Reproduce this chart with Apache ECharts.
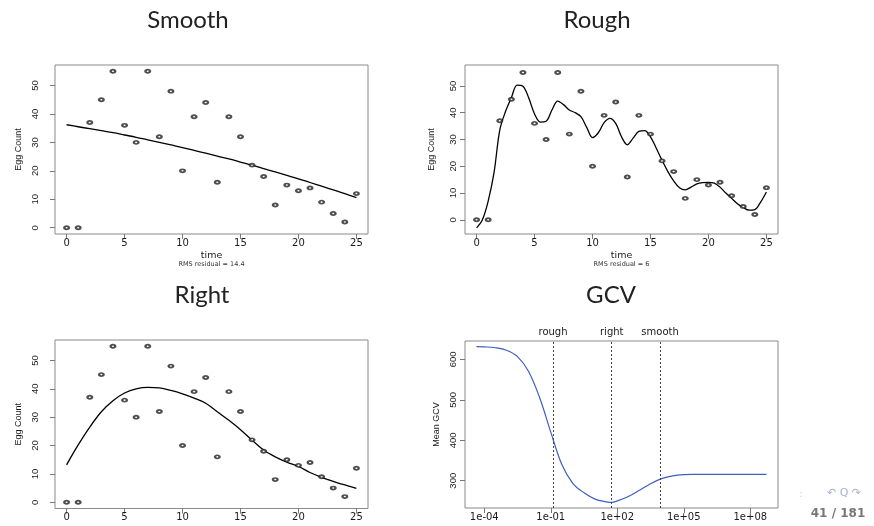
<!DOCTYPE html>
<html>
<head>
<meta charset="utf-8">
<script src="https://cdn.jsdelivr.net/npm/echarts@6/dist/echarts.min.js"></script>
<style>
  html, body { margin: 0; padding: 0; background: #fff; }
  #chart { width: 874px; height: 526px; }
</style>
</head>
<body>
<div id="chart"></div>
<script>
// Egg counts over time, with three spline fits and the GCV curve over lambda.
const times = [0, 1, 2, 3, 4, 5, 6, 7, 8, 9, 10, 11, 12, 13, 14, 15, 16, 17, 18, 19, 20, 21, 22, 23, 24, 25];
const eggCount = [0, 0, 37, 45, 55, 36, 30, 55, 32, 48, 20, 39, 44, 16, 39, 32, 22, 18, 8, 15, 13, 14, 9, 5, 2, 12];

// Heavily penalised fit (nearly straight)
const smoothFit = [36.2, 35.5, 34.8, 34.1, 33.4, 32.6, 31.8, 30.9, 30.0, 29.1, 28.2, 27.2, 26.2,
                   25.2, 24.2, 23.1, 22.0, 20.8, 19.6, 18.4, 17.2, 15.9, 14.6, 13.3, 12.0, 10.6];

// Lightly penalised fit, evaluated on a half-step grid
const roughTime = [0, 0.5, 1, 1.5, 2, 2.5, 3, 3.5, 4, 4.5, 5, 5.5, 6, 6.5, 7, 7.5, 8, 8.5, 9, 9.5,
                   10, 10.5, 11, 11.5, 12, 12.5, 13, 13.5, 14, 14.5, 15, 15.5, 16, 16.5, 17, 17.5,
                   18, 18.5, 19, 19.5, 20, 20.5, 21, 21.5, 22, 22.5, 23, 23.5, 24, 24.5, 25];
const roughFit = [-3, 0, 7, 17.5, 33.5, 40.5, 45.6, 50.3, 49.9, 45.5, 39.5, 36.5, 36.8, 41, 44.3, 43,
                  41, 40, 38.5, 34.5, 30.7, 32.5, 36.3, 37.9, 36, 31, 28, 30.5, 33, 33.3, 31, 26.7,
                  22.2, 18, 14.5, 12, 11.2, 12.2, 13.4, 13.9, 14, 13.7, 12.2, 10, 8, 6, 4.6, 3.6, 3.8,
                  6.6, 10.4];

// Fit at the GCV-chosen penalty
const rightFit = [13.2, 20.2, 26.5, 31.9, 35.8, 38.5, 40.0, 40.5, 40.3, 39.4, 38.2, 36.7, 34.9,
                  31.9, 28.9, 25.6, 21.9, 18.4, 16.0, 14.1, 12.6, 10.5, 8.8, 7.4, 6.1, 4.9];

// GCV criterion against log10(lambda)
const logLambda = [-4.35, -4, -3.5, -3, -2.5, -2, -1.5, -1, -0.5, 0, 0.5, 1, 1.5, 1.75, 2, 2.5, 3,
                   3.5, 4, 4.5, 5, 5.5, 6, 7, 8, 8.73];
const meanGCV = [631.5, 631, 628.8, 622.7, 607, 570, 505, 420, 340, 293, 270, 254.5, 247.8, 246.3,
                 250, 261, 276.5, 292.5, 305, 312, 315, 315.6, 315.8, 315.8, 315.8, 315.8];

// Penalties marked on the GCV panel
const markNames = ['rough', 'right', 'smooth'];
const markLogLambda = [-0.9, 1.75, 3.93];

// Tick positions and labels
const timeTicks = [0, 5, 10, 15, 20, 25];
const eggTicks = [0, 10, 20, 30, 40, 50];
const gcvTicks = [300, 400, 500, 600];
const lambdaTicks = [-4, -1, 2, 5, 8];
const lambdaTickLabels = ['1e-04', '1e-01', '1e+02', '1e+05', '1e+08'];

const panelTitles = ['Smooth', 'Rough', 'Right', 'GCV'];
const rmsLabels = ['RMS residual = 14.4', 'RMS residual = 6'];

const TICK_FONT = 'DejaVu Sans';
const SIDE_FONT = 'Liberation Sans';
const BOX = '#8a8a8a';
const INK = '#1a1a1a';

const grids = [
  { left: 55,  top: 65,  width: 313, height: 169 },
  { left: 465, top: 65,  width: 313, height: 169 },
  { left: 55,  top: 340, width: 313, height: 168.5 },
  { left: 465, top: 341, width: 313, height: 167 }
].map(g => Object.assign({
  show: true, borderColor: BOX, borderWidth: 1, backgroundColor: 'transparent',
  outerBoundsMode: 'none', containLabel: false
}, g));

const hiddenLine = { show: false, onZero: false };

function timeAxis(gi, withName) {
  return {
    gridIndex: gi, type: 'value', min: -1, max: 26, position: 'bottom',
    axisLine: hiddenLine, splitLine: { show: false },
    axisTick: { show: true, customValues: timeTicks, length: 5, lineStyle: { color: '#777' } },
    axisLabel: { customValues: timeTicks, margin: 4, fontFamily: TICK_FONT, fontSize: 10, color: INK },
    name: withName ? 'time' : '', nameLocation: 'middle', nameGap: 17,
    nameTextStyle: { fontFamily: TICK_FONT, fontSize: 9.5, color: INK }
  };
}

function countAxis(gi, min, max, labelMargin, nameGap) {
  return {
    gridIndex: gi, type: 'value', min: min, max: max, position: 'left',
    axisLine: hiddenLine, splitLine: { show: false },
    axisTick: { show: true, customValues: eggTicks, length: 5, lineStyle: { color: '#777' } },
    axisLabel: { customValues: eggTicks, rotate: 90, margin: labelMargin, fontFamily: SIDE_FONT, fontSize: 9.5, color: INK },
    name: 'Egg Count', nameLocation: 'middle', nameRotate: 90, nameGap: nameGap,
    nameTextStyle: { fontFamily: SIDE_FONT, fontSize: 9, color: INK }
  };
}

const xAxes = [
  timeAxis(0, true),
  timeAxis(1, true),
  timeAxis(2, false),
  {
    gridIndex: 3, type: 'value', min: -4.87, max: 9.25, position: 'bottom',
    axisLine: hiddenLine, splitLine: { show: false },
    axisTick: { show: true, customValues: lambdaTicks, length: 5, lineStyle: { color: '#777' } },
    axisLabel: {
      customValues: lambdaTicks, margin: 4, fontFamily: TICK_FONT, fontSize: 10, color: INK,
      formatter: v => lambdaTickLabels[lambdaTicks.indexOf(v)]
    }
  }
];

const yAxes = [
  countAxis(0, -2.2, 57.2, 15, 32),
  countAxis(1, -5.3, 57.8, 7, 29),
  countAxis(2, -2.2, 57.2, 15, 32),
  {
    gridIndex: 3, type: 'value', min: 232.5, max: 645.5, position: 'left',
    axisLine: hiddenLine, splitLine: { show: false },
    axisTick: { show: true, customValues: gcvTicks, length: 5, lineStyle: { color: '#777' } },
    axisLabel: { customValues: gcvTicks, rotate: 90, margin: 7, fontFamily: SIDE_FONT, fontSize: 9.5, color: INK },
    name: 'Mean GCV', nameLocation: 'middle', nameRotate: 90, nameGap: 24,
    nameTextStyle: { fontFamily: SIDE_FONT, fontSize: 9, color: INK }
  }
];

const points = times.map((t, i) => [t, eggCount[i]]);

function scatterSeries(gi) {
  return {
    type: 'scatter', xAxisIndex: gi, yAxisIndex: gi, data: points,
    symbol: 'emptyCircle', symbolSize: [4.6, 3.2],
    itemStyle: { color: '#222', borderColor: '#222', borderWidth: 0.8 },
    silent: true, z: 3
  };
}

function fitSeries(gi, xs, ys) {
  return {
    type: 'line', xAxisIndex: gi, yAxisIndex: gi,
    data: xs.map((x, i) => [x, ys[i]]),
    smooth: 0.35, showSymbol: false, silent: true,
    lineStyle: { color: '#000', width: 1.3 }, z: 2
  };
}

const series = [
  scatterSeries(0), fitSeries(0, times, smoothFit),
  scatterSeries(1), fitSeries(1, roughTime, roughFit),
  scatterSeries(2), fitSeries(2, times, rightFit),
  {
    type: 'line', xAxisIndex: 3, yAxisIndex: 3,
    data: logLambda.map((x, i) => [x, meanGCV[i]]),
    smooth: 0.35, showSymbol: false, silent: true,
    lineStyle: { color: '#3f5fbf', width: 1.2 },
    markLine: {
      silent: true, symbol: 'none', animation: false,
      lineStyle: { type: [2, 2], color: '#444', width: 1 },
      label: { show: true, position: 'end', distance: 4, formatter: '{b}',
               fontFamily: TICK_FONT, fontSize: 10, color: INK },
      data: markLogLambda.map((v, i) => ({ xAxis: v, name: markNames[i] }))
    }
  }
];

const titleCenters = [[188, 20], [597, 20], [202, 295], [611, 295]];
const graphics = panelTitles.map((t, i) => ({
  type: 'text', x: titleCenters[i][0], y: titleCenters[i][1],
  style: { text: t, font: '24px Lato', fill: '#222', textAlign: 'center', textVerticalAlign: 'middle',
           align: 'center', verticalAlign: 'middle' }
}));
[[211.5, 264], [621.5, 264]].forEach((p, i) => graphics.push({
  type: 'text', x: p[0], y: p[1],
  style: { text: rmsLabels[i], font: '6.5px "DejaVu Sans"', fill: '#333', textAlign: 'center',
           textVerticalAlign: 'middle', align: 'center', verticalAlign: 'middle' }
}));
// Slide furniture: navigation symbols and frame counter
graphics.push({
  type: 'text', x: 801, y: 494,
  style: { text: ':', font: '10px "DejaVu Sans"', fill: '#c9cde0', textAlign: 'center',
           textVerticalAlign: 'middle', align: 'center', verticalAlign: 'middle' }
});
graphics.push({
  type: 'text', x: 844, y: 493,
  style: { text: '\u21B6 Q \u21B7', font: '11px "DejaVu Sans"', fill: '#a9b0cc', textAlign: 'center',
           textVerticalAlign: 'middle', align: 'center', verticalAlign: 'middle' }
});
graphics.push({
  type: 'text', x: 838, y: 514,
  style: { text: '41 / 181', font: 'bold 12px "DejaVu Sans"', fill: '#777', textAlign: 'center',
           textVerticalAlign: 'middle', align: 'center', verticalAlign: 'middle' }
});

const chart = echarts.init(document.getElementById('chart'), null, { renderer: 'canvas' });
chart.setOption({
  animation: false,
  backgroundColor: '#fff',
  grid: grids,
  xAxis: xAxes,
  yAxis: yAxes,
  series: series,
  graphic: graphics
});
</script>
</body>
</html>
